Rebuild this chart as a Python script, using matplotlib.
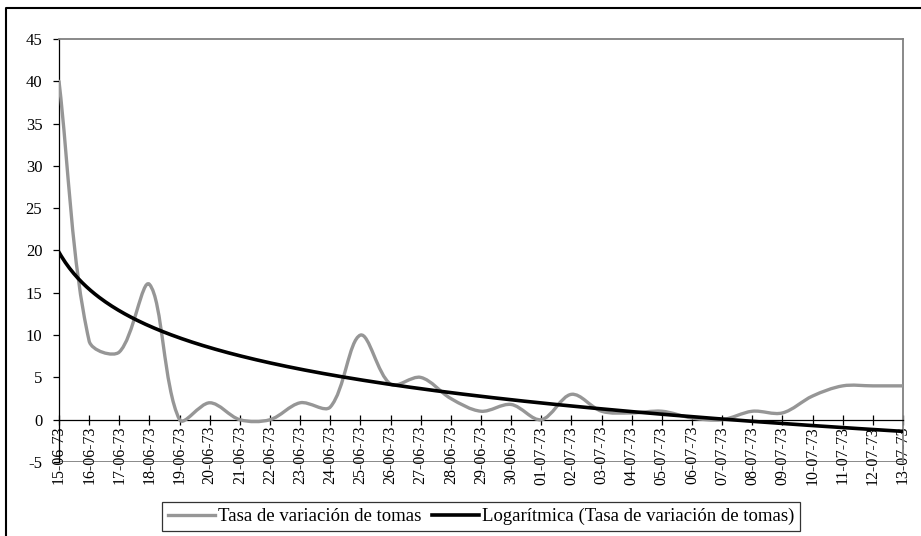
import numpy as np
import pandas as pd
import matplotlib
matplotlib.use('Agg')
from matplotlib import pyplot as plt
from matplotlib.path import Path
from matplotlib.patches import PathPatch
from matplotlib.lines import Line2D

plt.rcParams['font.family'] = ['Liberation Serif', 'DejaVu Serif']
plt.rcParams['axes.unicode_minus'] = False

# fechas diarias 15-06-73 .. 13-07-73
fechas = pd.date_range('1973-06-15', '1973-07-13', freq='D').strftime('%d-%m-%y').tolist()
# tasa de variacion de tomas
tasa = [40, 9.3, 8.0, 16.0, 0.0, 2.0, 0.0, 0.0, 2.0, 1.5,
        10.0, 4.2, 5.0, 2.5, 1.0, 1.8, 0.0, 3.0, 1.0, 0.8,
        1.0, 0.2, 0.0, 1.0, 0.8, 2.8, 4.0, 4.0, 4.0]
y_ticks = [-5, 0, 5, 10, 15, 20, 25, 30, 35, 40, 45]

GRIS = '#969696'
W, H = 921, 536

x = np.arange(len(tasa))
y = np.array(tasa, dtype=float)


def smooth_path(ax, xs, ys):
    # linea suavizada tipo excel: bezier con tangentes ponderadas por la longitud
    # de cada tramo en pixeles
    tr = ax.transData
    pts = tr.transform(np.column_stack([xs, ys]))
    n = len(pts)
    verts = [pts[0]]
    codes = [Path.MOVETO]
    for i in range(n - 1):
        p1, p2 = pts[i], pts[i + 1]
        d12 = np.hypot(*(p2 - p1))
        p0 = pts[i - 1] if i > 0 else p1
        p3 = pts[i + 2] if i + 2 < n else p2
        d01 = np.hypot(*(p1 - p0))
        d23 = np.hypot(*(p3 - p2))
        c1 = p1 + (p2 - p0) * d12 / (d01 + d12) / 3
        c2 = p2 - (p3 - p1) * d12 / (d12 + d23) / 3
        verts += [c1, c2, p2]
        codes += [Path.CURVE4] * 3
    verts = tr.inverted().transform(np.array(verts))
    return Path(verts, codes)


# tendencia logaritmica y = a + b ln(n), n = 1..N
b, a = np.polyfit(np.log(x + 1), y, 1)
xt = np.linspace(0, len(tasa) - 1, 400)
yt = a + b * np.log(xt + 1)

fig = plt.figure(figsize=(W / 100, H / 100), dpi=100)
ax = fig.add_axes([59 / W, (H - 462) / H, 844 / W, 423 / H])
ax.set_xlim(0, len(tasa) - 1)
ax.set_ylim(-5, 45)

ax.add_patch(PathPatch(smooth_path(ax, x, y), fill=False, edgecolor=GRIS, lw=2.4,
                       capstyle='round', joinstyle='round', zorder=3))
ax.plot(xt, yt, color='black', lw=2.6, zorder=4)

ax.set_yticks(y_ticks)
ax.set_xticks(x)
ax.set_xticklabels(fechas)

ax.spines['bottom'].set_position(('data', 0))
ax.spines['bottom'].set_color('black')
ax.spines['bottom'].set_linewidth(0.9)
ax.spines['left'].set_color('black')
ax.spines['left'].set_linewidth(0.9)
for s in ['top', 'right']:
    ax.spines[s].set_color('#808080')
    ax.spines[s].set_linewidth(1.3)
ax.axhline(-5, color='#808080', lw=1.3, zorder=1)

ax.tick_params(axis='x', direction='inout', length=7, width=0.9, pad=1,
               labelsize=11.5, labelrotation=90)
ax.tick_params(axis='y', direction='out', length=4, width=0.9, pad=8, labelsize=12)

handles = [Line2D([], [], color=GRIS, lw=2.4),
           Line2D([], [], color='black', lw=2.6)]
labels = ['Tasa de variación de tomas', 'Logarítmica (Tasa de variación de tomas)']
leg = fig.legend(handles, labels, loc='center', ncol=2,
                 bbox_to_anchor=(481 / W, 1 - 516.5 / H), frameon=True, fancybox=False,
                 edgecolor='black', fontsize=13.5, handlelength=2.5, handletextpad=0.15,
                 columnspacing=0.6, borderpad=0.3, borderaxespad=0)
leg.get_frame().set_linewidth(0.9)

# marco exterior (solo se ven borde superior e izquierdo)
fig.add_artist(Line2D([6 / W, 6 / W, 1], [0, 1 - 8 / H, 1 - 8 / H], color='black', lw=1.5,
                      transform=fig.transFigure))

fig.savefig('out.png', dpi=100)
